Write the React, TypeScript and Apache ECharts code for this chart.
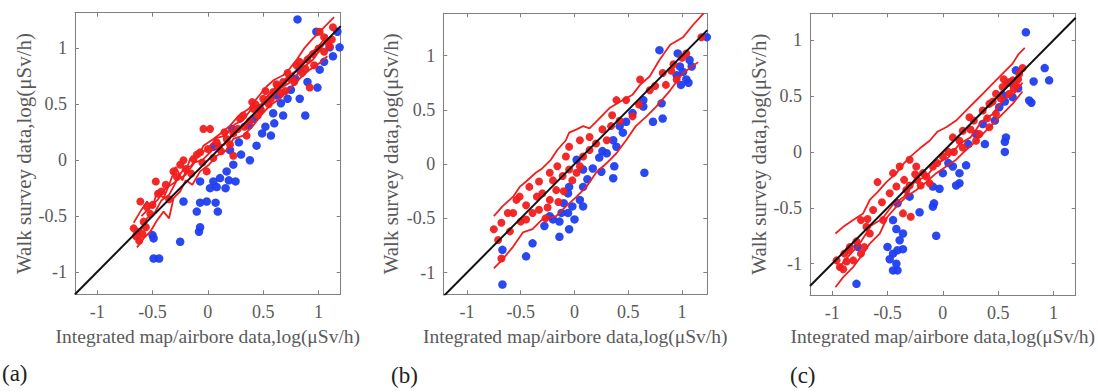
import React, { useEffect, useRef } from "react";
import * as echarts from "echarts";

// ---------- data ----------
const xTicks = [-1, -0.5, 0, 0.5, 1];
const yTicks = [-1, -0.5, 0, 0.5, 1];
const panelLabels = ["(a)", "(b)", "(c)"];
const xTitle = "Integrated map/airbore data,log(\u03BCSv/h)";
const yTitle = "Walk survey data,log(\u03BCSv/h)";
const refLineA = [[-1.2, -1.2], [1.2, 1.2]];
const refLineB = [[-1.22, -1.22], [1.235, 1.235]];
const refLineC = [[-1.2, -1.2], [1.2, 1.2]];

const blueA = [
  [0.91, 1.33], [0.81, 1.26], [0.98, 1.15], [1.17, 1.15], [1.19, 1.01], [1.1, 1.01], [1.13, 0.93],
  [1.01, 0.81], [0.99, 0.65], [0.83, 0.81], [0.79, 0.73], [0.75, 0.63], [0.83, 0.55], [0.88, 0.4],
  [0.72, 0.55], [0.66, 0.51], [0.59, 0.42], [0.6, 0.33], [0.57, 0.22], [0.47, 0.46], [0.41, 0.37],
  [0.49, 0.24], [0.37, 0.31], [0.44, 0.13], [0.38, 0.0], [0.22, 0.28], [0.28, 0.16], [0.2, 0.09],
  [0.23, -0.04], [0.17, -0.1], [0.11, -0.16], [0.19, -0.18], [0.25, -0.19], [0.08, -0.24],
  [0.02, -0.25], [0.16, -0.25], [0.05, -0.19], [-0.07, -0.19], [-0.01, -0.37], [-0.07, -0.38],
  [0.07, -0.38], [-0.1, -0.46], [0.09, -0.46], [-0.22, -0.37], [-0.07, -0.6], [-0.08, -0.64],
  [-0.5, -0.67], [-0.49, -0.7], [-0.25, -0.73], [-0.49, -0.88], [-0.44, -0.88], [0.05, 0.12],
  [0.3, 0.05], [0.52, 0.3], [0.68, 0.4], [0.62, 0.58], [0.9, 0.7], [1.05, 0.88],
];
const redA = [
  [-0.67, -0.61], [-0.64, -0.64], [-0.59, -0.66], [-0.62, -0.72], [-0.47, -0.19], [-0.61, -0.37],
  [-0.55, -0.42], [-0.52, -0.48], [-0.38, -0.22], [-0.31, -0.1], [-0.25, -0.04], [-0.2, -0.08],
  [-0.13, 0.01], [-0.07, 0.07], [-0.04, 0.28], [0.02, 0.28], [0.08, 0.16], [0.0, 0.1], [0.17, 0.19],
  [0.12, 0.08], [0.23, 0.24], [0.29, 0.37], [0.33, 0.3], [0.41, 0.46], [0.45, 0.4], [0.5, 0.55],
  [0.55, 0.5], [0.59, 0.61], [0.63, 0.66], [0.68, 0.7], [0.74, 0.73], [0.7, 0.62], [0.92, 0.65],
  [0.96, 0.85], [0.9, 0.9], [1.05, 0.97], [1.01, 1.15], [1.08, 1.06], [1.13, 1.19], [1.1, 1.02],
  [-0.01, -0.1], [0.23, 0.04], [0.35, 0.22], [-0.45, -0.3], [-0.35, -0.35], [-0.15, -0.12],
  [0.05, 0.02], [0.4, 0.52], [0.8, 0.85], [0.85, 0.78],
  [-0.58, -0.55], [-0.5, -0.4], [-0.42, -0.28], [-0.28, -0.15], [-0.22, 0.0], [-0.1, 0.05],
  [-0.05, -0.02], [0.1, 0.12], [0.15, 0.25], [0.2, 0.14], [0.27, 0.28], [0.32, 0.4], [0.38, 0.35],
  [0.43, 0.5], [0.48, 0.45], [0.52, 0.62], [0.57, 0.55], [0.62, 0.68], [0.66, 0.6], [0.72, 0.78],
  [0.78, 0.7], [0.83, 0.88], [0.88, 0.82], [0.95, 0.95], [1.0, 1.0], [1.05, 1.1], [1.12, 1.08],
  [-0.65, -0.68], [-0.56, -0.6],
];
const upperA = [
  [-0.67, -0.56], [-0.61, -0.46], [-0.55, -0.37], [-0.5, -0.43], [-0.46, -0.28], [-0.4, -0.34],
  [-0.35, -0.22], [-0.29, -0.06], [-0.23, -0.18], [-0.16, 0.01], [-0.08, 0.04], [-0.04, 0.13],
  [0.05, 0.19], [0.13, 0.25], [0.2, 0.31], [0.28, 0.4], [0.37, 0.46], [0.44, 0.55], [0.53, 0.66],
  [0.6, 0.72], [0.68, 0.76], [0.74, 0.82], [0.81, 0.91], [0.87, 1.0], [0.95, 1.09], [1.02, 1.16],
  [1.1, 1.24], [1.14, 1.28],
];
const lowerA = [
  [-0.64, -0.78], [-0.58, -0.7], [-0.52, -0.64], [-0.46, -0.54], [-0.4, -0.46], [-0.35, -0.52],
  [-0.31, -0.34], [-0.25, -0.28], [-0.2, -0.18], [-0.14, -0.22], [-0.07, -0.1], [0.01, -0.04],
  [0.08, 0.04], [0.17, 0.09], [0.23, 0.19], [0.32, 0.22], [0.41, 0.31], [0.48, 0.4], [0.56, 0.49],
  [0.65, 0.55], [0.74, 0.64], [0.83, 0.73], [0.92, 0.81], [1.01, 0.87], [1.08, 0.93],
];
const midA = [
  [-0.62, -0.66], [-0.55, -0.52], [-0.48, -0.47], [-0.42, -0.36], [-0.35, -0.31], [-0.28, -0.18],
  [-0.2, -0.13], [-0.12, -0.02], [-0.05, 0.0], [0.05, 0.1], [0.15, 0.14], [0.25, 0.27], [0.35, 0.33],
  [0.45, 0.46], [0.55, 0.53], [0.65, 0.64], [0.75, 0.7], [0.85, 0.82], [0.95, 0.9], [1.05, 1.04],
  [1.12, 1.1],
];
const midA2 = [
  [-0.6, -0.5], [-0.52, -0.42], [-0.45, -0.35], [-0.38, -0.25], [-0.3, -0.2], [-0.22, -0.08],
  [-0.15, -0.05], [-0.08, 0.06], [0.0, 0.1], [0.08, 0.2], [0.16, 0.22], [0.24, 0.32], [0.32, 0.36],
  [0.4, 0.47], [0.48, 0.5], [0.56, 0.6], [0.64, 0.66], [0.72, 0.75], [0.8, 0.8], [0.9, 0.93],
  [1.0, 1.02], [1.08, 1.12],
];

const blueB = [
  [1.23, 1.17], [0.79, 1.05], [0.96, 1.02], [1.07, 0.96], [1.09, 0.9], [0.98, 0.9], [1.01, 0.85],
  [0.95, 0.82], [1.04, 0.78], [0.99, 0.73], [1.06, 0.75], [0.81, 0.56], [0.82, 0.42], [0.73, 0.39],
  [0.64, 0.59], [0.64, 0.53], [0.54, 0.47], [0.48, 0.39], [0.42, 0.35], [0.45, 0.29], [0.36, 0.22],
  [0.39, 0.16], [0.26, 0.12], [0.23, 0.06], [0.37, -0.02], [0.36, -0.13], [0.25, -0.07],
  [0.17, -0.04], [0.12, -0.14], [0.08, -0.21], [0.02, 0.04], [0.08, -0.05], [-0.05, -0.21],
  [0.05, -0.33], [0.08, -0.39], [-0.02, -0.39], [-0.06, -0.45], [0.0, -0.51], [-0.05, -0.6],
  [-0.12, -0.45], [-0.14, -0.53], [-0.2, -0.51], [-0.23, -0.48], [-0.14, -0.67], [-0.28, -0.57],
  [-0.39, -0.73], [-0.45, -0.85], [-0.67, -0.79], [-0.67, -1.11], [0.65, -0.08], [-0.06, -0.27],
  [-0.1, -0.36], [0.3, 0.1],
];
const redB = [
  [-0.75, -0.6], [-0.68, -0.54], [-0.71, -0.7], [-0.68, -0.87], [-0.51, -0.3], [-0.5, -0.53],
  [-0.42, -0.21], [-0.33, -0.16], [-0.23, -0.08], [-0.16, -0.02], [-0.08, 0.07], [-0.05, 0.16],
  [0.05, 0.22], [0.14, 0.25], [0.26, 0.32], [0.34, 0.35], [0.39, 0.59], [0.48, 0.59], [0.54, 0.44],
  [0.61, 0.78], [0.7, 0.68], [0.82, 0.84], [0.95, 0.78], [0.85, 0.73], [1.04, 1.02], [1.18, 1.17],
  [-0.3, -0.27], [-0.23, -0.33], [-0.17, -0.24], [-0.11, -0.11], [-0.05, -0.05], [0.02, -0.08],
  [0.08, 0.07], [0.14, 0.13], [0.2, 0.19], [-0.33, -0.42], [-0.39, -0.45], [-0.45, -0.51],
  [-0.57, -0.45], [-0.54, -0.33], [-0.27, -0.5], [0.3, 0.22], [0.9, 0.86], [-0.6, -0.62],
  [-0.25, -0.4], [-0.15, -0.35], [-0.1, -0.25], [-0.02, -0.15], [0.05, -0.02], [-0.35, -0.3],
  [-0.45, -0.38], [0.35, 0.45], [0.42, 0.4], [0.6, 0.55], [0.75, 0.72], [0.92, 0.92], [1.0, 0.98],
  [-0.2, -0.15], [-0.62, -0.45],
];
const upperB = [
  [-0.75, -0.48], [-0.67, -0.39], [-0.57, -0.3], [-0.51, -0.21], [-0.45, -0.16], [-0.36, -0.08],
  [-0.3, -0.04], [-0.22, 0.04], [-0.16, 0.13], [-0.08, 0.22], [-0.05, 0.29], [0.02, 0.32],
  [0.08, 0.35], [0.14, 0.33], [0.23, 0.42], [0.33, 0.52], [0.45, 0.59], [0.54, 0.64], [0.61, 0.73],
  [0.7, 0.81], [0.79, 0.96], [0.89, 1.1], [1.01, 1.17], [1.1, 1.28], [1.2, 1.39],
];
const lowerB = [
  [-0.75, -0.96], [-0.67, -0.88], [-0.57, -0.76], [-0.48, -0.63], [-0.39, -0.6], [-0.3, -0.51],
  [-0.17, -0.48], [-0.08, -0.39], [0.02, -0.3], [0.11, -0.21], [0.2, -0.08], [0.3, 0.01],
  [0.39, 0.1], [0.48, 0.22], [0.57, 0.35], [0.67, 0.44], [0.76, 0.53], [0.89, 0.68], [1.01, 0.84],
  [1.15, 0.94],
];

const blueC = [
  [0.75, 1.07], [0.92, 0.75], [0.96, 0.64], [0.82, 0.63], [0.78, 0.46], [0.8, 0.44], [0.66, 0.73],
  [0.68, 0.57], [0.63, 0.49], [0.54, 0.51], [0.56, 0.45], [0.51, 0.4], [0.57, 0.13], [0.56, 0.09],
  [0.56, 0.0], [0.47, 0.28], [0.36, 0.25], [0.38, 0.07], [0.3, 0.16], [0.23, 0.07], [0.21, -0.12],
  [0.15, -0.19], [0.09, -0.13], [0.12, -0.3], [0.15, -0.28], [0.0, -0.19], [-0.03, -0.33],
  [-0.09, -0.31], [-0.08, -0.46], [-0.09, -0.49], [-0.06, -0.75], [-0.21, -0.54], [-0.3, -0.4],
  [-0.41, -0.46], [-0.45, -0.61], [-0.42, -0.69], [-0.36, -0.73], [-0.36, -0.87], [-0.41, -0.88],
  [-0.45, -0.91], [-0.48, -0.96], [-0.42, -1.0], [-0.45, -1.06], [-0.41, -1.06], [-0.5, -0.85],
  [-0.39, -0.79], [-0.78, -1.18], [-0.77, -0.85], [0.6, 0.62], [0.05, -0.1],
];
const redC = [
  [-0.96, -0.97], [-0.93, -1.03], [-0.89, -0.91], [-0.84, -0.85], [-0.81, -0.97], [-0.74, -0.91],
  [-0.71, -0.85], [-0.74, -0.61], [-0.69, -0.67], [-0.66, -0.73], [-0.63, -0.52], [-0.59, -0.27],
  [-0.45, -0.19], [-0.39, -0.13], [-0.35, -0.25], [-0.3, -0.07], [-0.24, -0.13], [-0.23, -0.25],
  [-0.18, -0.19], [-0.12, -0.28], [-0.09, -0.13], [0.0, -0.04], [0.09, 0.13], [0.18, 0.19],
  [0.24, 0.31], [0.18, 0.04], [0.3, 0.1], [0.36, 0.37], [0.42, 0.43], [0.48, 0.52], [0.54, 0.58],
  [0.63, 0.64], [0.69, 0.7], [0.72, 0.75], [0.6, 0.52], [0.48, 0.34], [0.42, 0.22], [0.33, 0.16],
  [-0.29, -0.58], [-0.36, -0.55], [-0.54, -0.61], [-0.48, -0.37], [-0.42, -0.31], [-0.33, -0.34],
  [-0.2, -0.3], [0.1, 0.0], [0.66, 0.6], [-0.87, -0.98],
  [-0.9, -1.05], [-0.85, -0.88], [-0.78, -0.8], [-0.3, -0.3], [-0.25, -0.2], [-0.15, -0.22],
  [-0.05, -0.1], [0.05, 0.0], [0.15, 0.1], [0.25, 0.2], [0.28, 0.28], [0.4, 0.3], [0.45, 0.45],
  [0.52, 0.48], [0.58, 0.62], [0.64, 0.57], [0.68, 0.65], [0.55, 0.65], [-0.55, -0.45], [-0.68, -0.6],
];
const upperC = [
  [-0.97, -0.73], [-0.9, -0.67], [-0.81, -0.61], [-0.72, -0.55], [-0.66, -0.43], [-0.59, -0.36],
  [-0.51, -0.27], [-0.42, -0.19], [-0.35, -0.1], [-0.29, -0.04], [-0.21, 0.03], [-0.12, 0.1],
  [-0.05, 0.18], [0.03, 0.22], [0.12, 0.28], [0.18, 0.34], [0.24, 0.4], [0.3, 0.46], [0.36, 0.52],
  [0.45, 0.61], [0.54, 0.7], [0.63, 0.79], [0.68, 0.87], [0.74, 0.93],
];
const lowerC = [
  [-0.97, -1.21], [-0.9, -1.12], [-0.81, -1.03], [-0.72, -0.91], [-0.66, -0.82], [-0.57, -0.73],
  [-0.5, -0.58], [-0.42, -0.49], [-0.33, -0.4], [-0.24, -0.34], [-0.15, -0.27], [-0.06, -0.19],
  [0.03, -0.13], [0.12, -0.07], [0.18, -0.01], [0.27, 0.07], [0.36, 0.16], [0.45, 0.25],
  [0.54, 0.34], [0.63, 0.43], [0.72, 0.54],
];
const midC = [
  [-0.95, -1.05], [-0.85, -0.93], [-0.75, -0.82], [-0.65, -0.66], [-0.55, -0.6], [-0.45, -0.47],
  [-0.35, -0.4], [-0.25, -0.26], [-0.15, -0.22], [-0.05, -0.1], [0.05, -0.05], [0.15, 0.07],
  [0.25, 0.13], [0.35, 0.27], [0.45, 0.34], [0.55, 0.47], [0.65, 0.53], [0.72, 0.62],
];

// ---------- layout / style ----------
const GRIDS = [
  { left: 75, top: 12.7, width: 265.7, height: 281.6, x: [-1.2, 1.2], y: [-1.2, 1.32], yGap: 37 },
  { left: 443.3, top: 13.3, width: 264, height: 281, x: [-1.22, 1.235], y: [-1.2, 1.39], yGap: 42 },
  { left: 810, top: 13.3, width: 265.7, height: 281.7, x: [-1.2, 1.2], y: [-1.28, 1.24], yGap: 38 },
];
const LABEL_POS = [
  [2, 375],
  [391, 377],
  [790, 377],
];
const PANELS = [
  { blue: blueA, red: redA, lines: [upperA, lowerA, midA, midA2], ref: refLineA },
  { blue: blueB, red: redB, lines: [upperB, lowerB], ref: refLineB },
  { blue: blueC, red: redC, lines: [upperC, lowerC, midC], ref: refLineC },
];

const FONT = "Liberation Serif";
const FRAME = "#808080";
const TEXT = "#5a5a5a";
const RED = "#f21d1d";
const BLUE = "#1f3ef0";

function buildOption() {
  const grid: any[] = [];
  const xAxis: any[] = [];
  const yAxis: any[] = [];
  const series: any[] = [];

  GRIDS.forEach((g, i) => {
    grid.push({ left: g.left, top: g.top, width: g.width, height: g.height, outerBoundsMode: "none", containLabel: false });
    const common = (ticks: number[]) => ({
      type: "value",
      gridIndex: i,
      splitLine: { show: false },
      axisLine: { show: true, onZero: false, lineStyle: { color: FRAME, width: 1 } },
      axisTick: { show: true, inside: true, length: 4, customValues: ticks, lineStyle: { color: FRAME, width: 1 } },
    });
    xAxis.push({
      ...common(xTicks),
      position: "bottom",
      min: g.x[0],
      max: g.x[1],
      axisLabel: { show: true, customValues: xTicks, color: TEXT, fontFamily: FONT, fontSize: 18, margin: 9 },
      name: xTitle,
      nameLocation: "middle",
      nameGap: 29,
      nameTextStyle: { color: TEXT, fontFamily: FONT, fontSize: 19.5 },
    });
    xAxis.push({
      ...common(xTicks),
      position: "top",
      min: g.x[0],
      max: g.x[1],
      axisLabel: { show: false },
    });
    yAxis.push({
      ...common(yTicks),
      position: "left",
      min: g.y[0],
      max: g.y[1],
      axisLabel: { show: true, customValues: yTicks, color: TEXT, fontFamily: FONT, fontSize: 18, margin: 8 },
      name: yTitle,
      nameLocation: "middle",
      nameGap: g.yGap,
      nameTextStyle: { color: TEXT, fontFamily: FONT, fontSize: 21 },
    });
    yAxis.push({
      ...common(yTicks),
      position: "right",
      min: g.y[0],
      max: g.y[1],
      axisLabel: { show: false },
    });

    const p = PANELS[i];
    const xi = i * 2;
    const yi = i * 2;
    series.push({
      type: "scatter",
      xAxisIndex: xi,
      yAxisIndex: yi,
      data: p.blue,
      symbolSize: 8.5,
      itemStyle: { color: BLUE, opacity: 0.95 },
      silent: true,
    });
    series.push({
      type: "scatter",
      xAxisIndex: xi,
      yAxisIndex: yi,
      data: p.red,
      symbolSize: 8,
      itemStyle: { color: RED, opacity: 0.95 },
      silent: true,
    });
    p.lines.forEach((ln) => {
      series.push({
        type: "line",
        xAxisIndex: xi,
        yAxisIndex: yi,
        data: ln,
        showSymbol: false,
        lineStyle: { color: RED, width: 1.8 },
        silent: true,
      });
    });
    series.push({
      type: "line",
      xAxisIndex: xi,
      yAxisIndex: yi,
      data: p.ref,
      showSymbol: false,
      clip: true,
      lineStyle: { color: "#111", width: 2 },
      silent: true,
      z: 5,
    });
  });

  const graphic = panelLabels.map((t, i) => ({
    type: "text",
    left: LABEL_POS[i][0],
    top: LABEL_POS[i][1] - 13,
    style: { text: t, fill: "#222", fontFamily: FONT, fontSize: 23 },
  }));

  return {
    animation: false,
    backgroundColor: "#ffffff",
    grid,
    xAxis,
    yAxis,
    series,
    graphic,
  };
}

export default function App() {
  const ref = useRef<HTMLDivElement>(null);
  useEffect(() => {
    if (!ref.current) return;
    const chart = echarts.init(ref.current, undefined, { renderer: "svg" });
    chart.setOption(buildOption() as any);
    return () => chart.dispose();
  }, []);
  return (
    <div
      ref={ref}
      style={{ position: "fixed", left: 0, top: 0, width: 1098, height: 392, background: "#fff" }}
    />
  );
}
